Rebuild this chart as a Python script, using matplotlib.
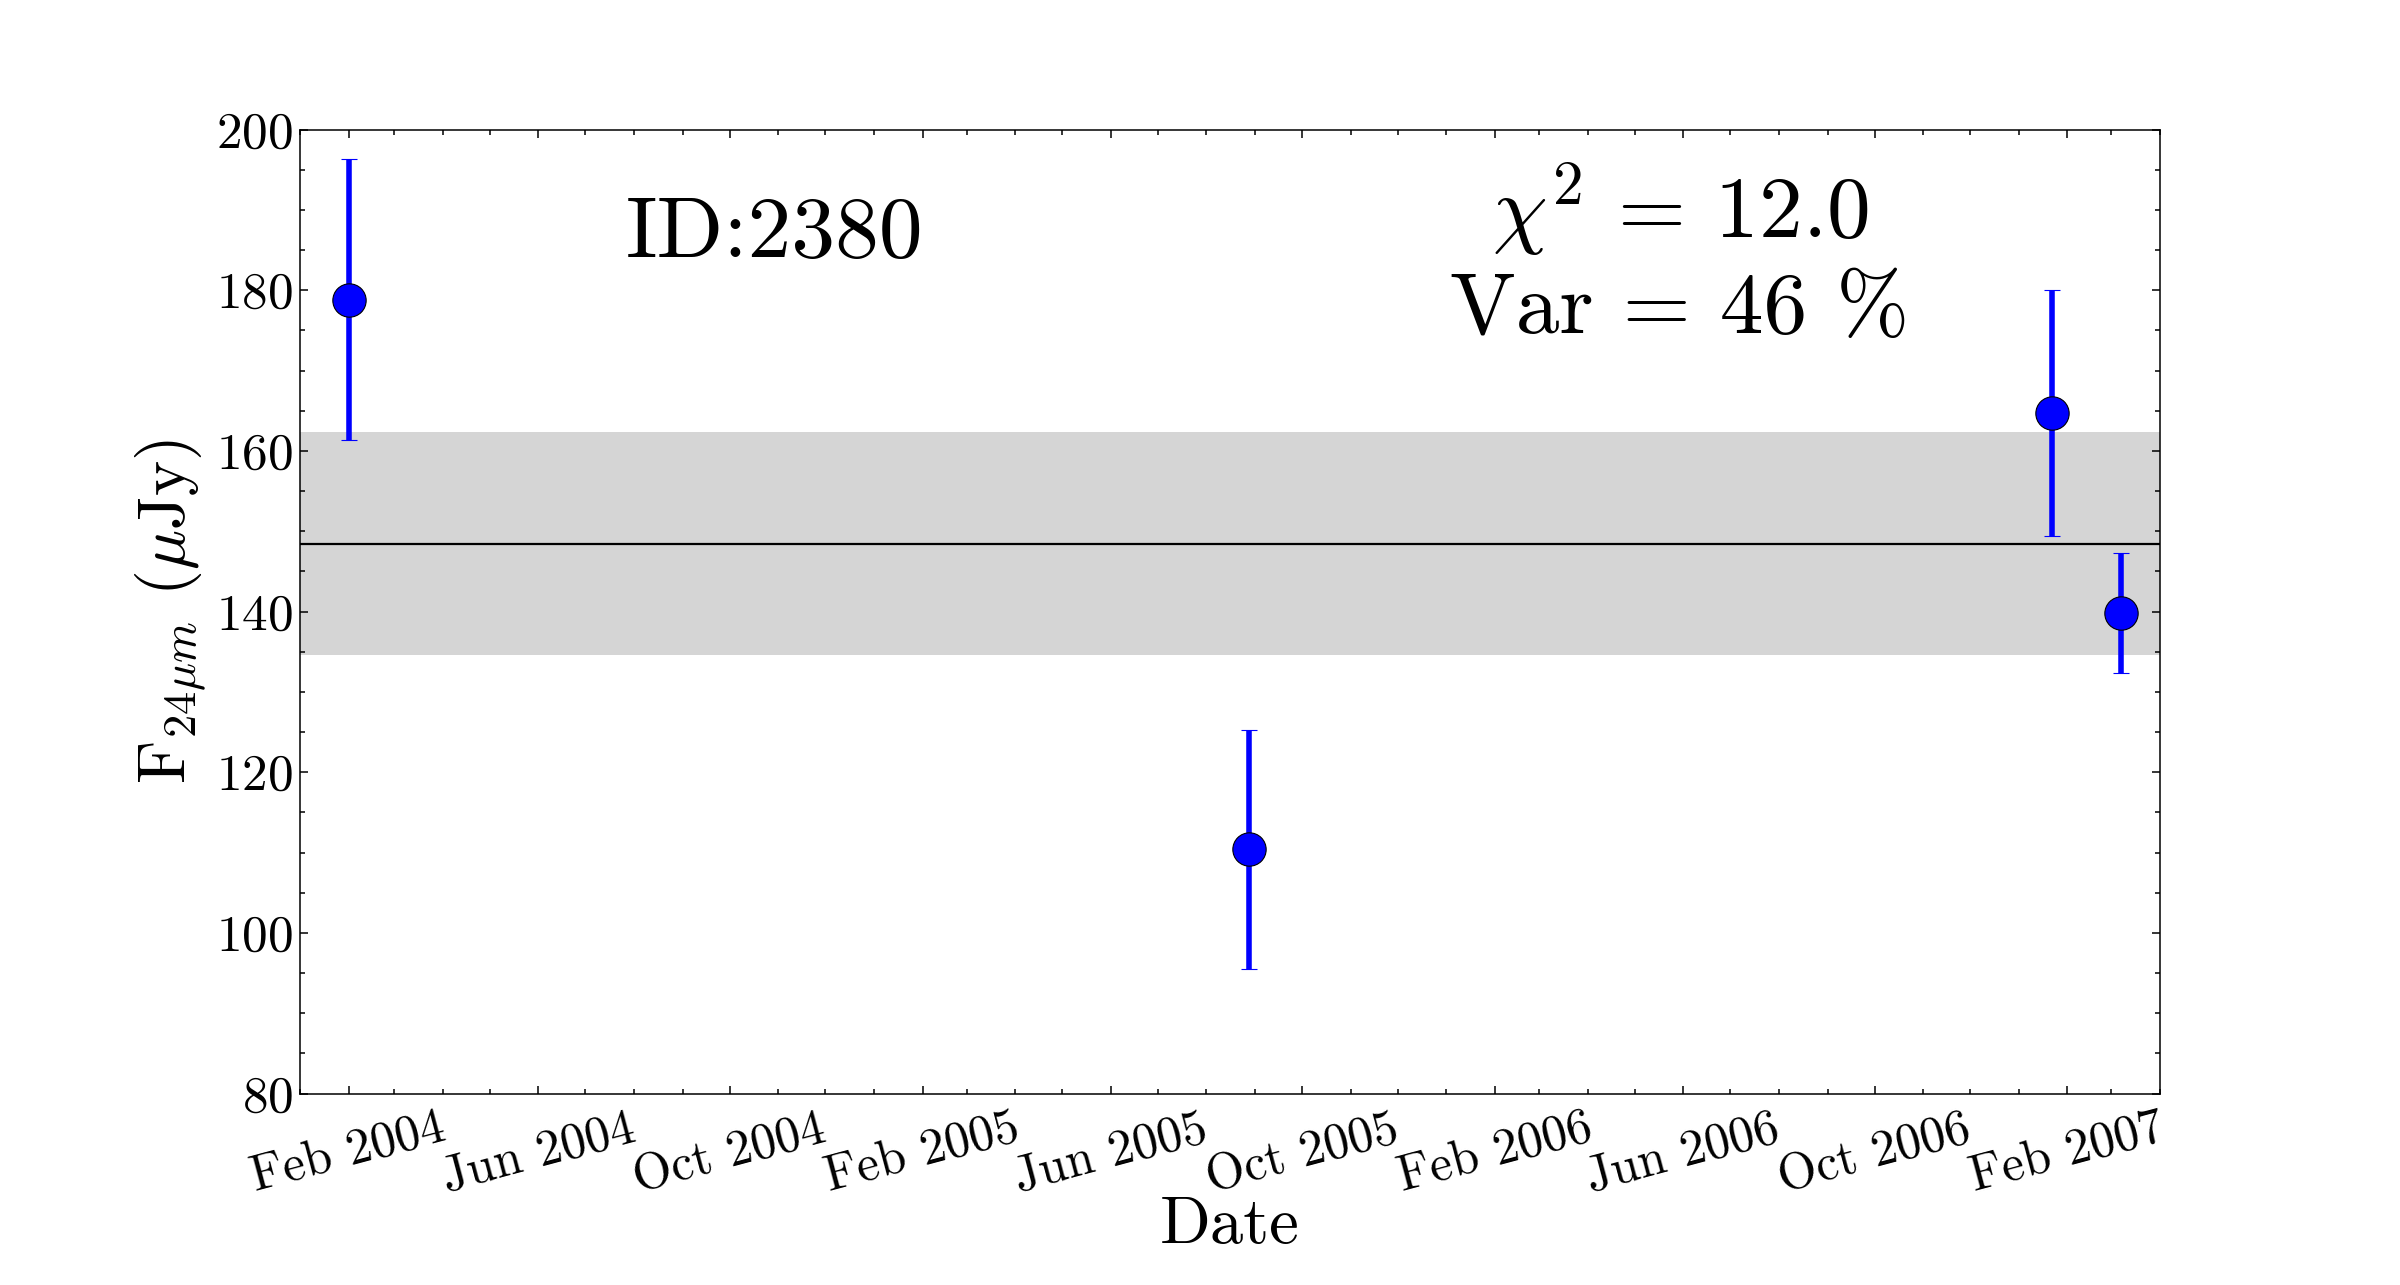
import matplotlib
matplotlib.use("Agg")
import matplotlib.pyplot as plt
import matplotlib.dates as mdates
import numpy as np
import datetime as dt

# ---- data ----
obs_dates = ["2004-02-01", "2005-08-28", "2007-01-22", "2007-03-07"]
flux = [178.8, 110.4, 164.7, 139.8]
flux_err = [17.5, 14.85, 15.35, 7.5]
mean_flux = 148.45
std_flux = 13.9
source_id = "2380"
chi2 = 12.0
var_pct = 46
x_range = ["2004-01-01", "2007-04-01"]
y_range = [80, 200]

plt.rcParams['font.family'] = 'serif'
plt.rcParams['font.serif'] = ['cmr10', 'DejaVu Serif']
plt.rcParams['mathtext.fontset'] = 'cm'
plt.rcParams['axes.formatter.use_mathtext'] = True

dates = [dt.datetime.strptime(d, "%Y-%m-%d") for d in obs_dates]
xlim = [dt.datetime.strptime(d, "%Y-%m-%d") for d in x_range]

fig = plt.figure(figsize=(24, 12.85), dpi=100)
ax = fig.add_axes([0.125, 0.149, 0.775, 0.7502])

ax.axhspan(mean_flux - std_flux, mean_flux + std_flux, color='#d5d5d5', lw=0, zorder=1)
ax.axhline(mean_flux, color='black', lw=1.6, zorder=2)
ax.errorbar(dates, flux, yerr=flux_err, fmt='o', color='blue', ecolor='blue',
            elinewidth=4, capsize=6, capthick=1.2, markersize=24,
            markerfacecolor='blue', markeredgecolor='black', markeredgewidth=0.8, zorder=3)

ax.set_xlim(xlim)
ax.set_ylim(y_range)

ax.xaxis.set_major_locator(mdates.MonthLocator(bymonth=[2, 6, 10]))
ax.xaxis.set_minor_locator(mdates.MonthLocator())
ax.xaxis.set_major_formatter(mdates.DateFormatter('%b %Y'))
ax.yaxis.set_major_locator(plt.MultipleLocator(20))
ax.yaxis.set_minor_locator(plt.MultipleLocator(5))

ax.tick_params(which='both', direction='in', top=True, right=True, width=1.1)
ax.tick_params(which='major', length=5.5)
ax.tick_params(which='minor', length=3.3)
ax.tick_params(axis='y', which='major', labelsize=37, pad=5)
ax.tick_params(axis='x', which='major', labelsize=36, pad=9)
for lab in ax.get_xticklabels():
    lab.set_rotation(15)
    lab.set_ha('center')
for sp in ax.spines.values():
    sp.set_linewidth(1.1)

ax.set_xlabel('Date', fontsize=48, labelpad=-4)
ax.set_ylabel(r'F$_{24\mu m}$ ($\mu$Jy)', fontsize=48, labelpad=6)

ax.text(0.255, 0.89, 'ID:' + source_id, transform=ax.transAxes, fontsize=63,
        ha='center', va='center')
ax.text(0.742, 0.917, r'$\chi^2$ = %.1f' % chi2, transform=ax.transAxes, fontsize=63,
        ha='center', va='center')
ax.text(0.742, 0.812, 'Var = %d %%' % var_pct, transform=ax.transAxes, fontsize=63,
        ha='center', va='center')

fig.savefig('out.png', dpi=100)
